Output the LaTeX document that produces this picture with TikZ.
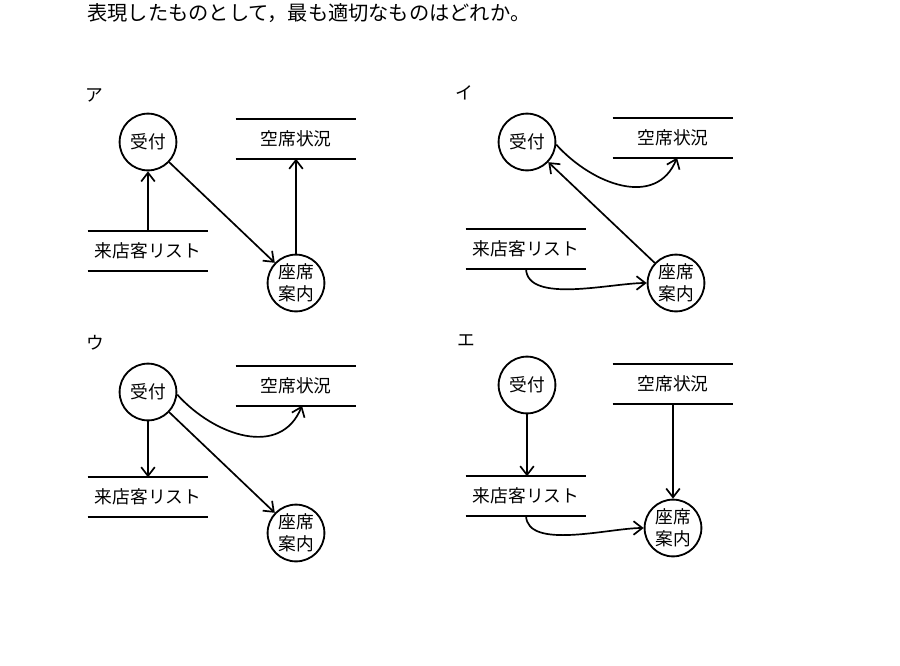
\documentclass[tikz,border=0pt]{standalone}
\usepackage{fontspec}
\setmainfont{Noto Sans CJK JP}
\usetikzlibrary{arrows.meta}

\begin{document}
\begin{tikzpicture}[
  x=0.025cm,y=-0.025cm,
  font=\fontsize{12.6}{15.6}\selectfont,
  >={Straight Barb[length=2.2mm,width=3.4mm]},
  proc/.style={draw,circle,line width=1.3pt,inner sep=0pt,minimum size=1.42cm,align=center},
  store/.style={inner sep=0pt,minimum width=3cm,minimum height=0.97cm,
    append after command={
      (\tikzlastnode.north west) edge[line width=1.3pt] (\tikzlastnode.north east)
      (\tikzlastnode.south west) edge[line width=1.3pt] (\tikzlastnode.south east)}},
  tag/.style={inner sep=0pt},
  flow/.style={->,line width=1.2pt}
]
\useasboundingbox (0,0) rectangle (900,665);
\node[anchor=west,inner sep=0pt,font=\fontsize{14.4}{17}\selectfont] (q) at (87,13) {表現したものとして，最も適切なものはどれか。};

% ア
\node[tag] (tA) at (94,95) {ア};
\node[proc] (recA) at (148,142) {受付};
\node[store] (vacA) at (296,139) {空席状況};
\node[store] (listA) at (148,251) {来店客リスト};
\node[proc] (seatA) at (296,283) {座席\\案内};
\draw[flow] (listA.north) -- (recA.south);
\draw[flow] (recA) -- (seatA);
\draw[flow] (seatA.north) -- (vacA.south);

% イ
\node[tag] (tB) at (464,93) {イ};
\node[proc] (recB) at (527,142) {受付};
\node[store] (vacB) at (673,138) {空席状況};
\node[store] (listB) at (526,249) {来店客リスト};
\node[proc] (seatB) at (676,283) {座席\\案内};
\draw[flow] (recB.-5) to[out=-48,in=-112,looseness=1.15] ([xshift=0.1cm]vacB.south);
\draw[flow] (seatB) -- (recB);
\draw[flow] (listB.south) to[out=-88,in=180,looseness=0.75] (seatB.west);

% ウ
\node[tag] (tC) at (95,343) {ウ};
\node[proc] (recC) at (148,392) {受付};
\node[store] (vacC) at (296,386) {空席状況};
\node[store] (listC) at (148,497) {来店客リスト};
\node[proc] (seatC) at (296,533) {座席\\案内};
\draw[flow] (recC.-5) to[out=-48,in=-112,looseness=1.15] ([xshift=0.15cm]vacC.south);
\draw[flow] (recC.south) -- (listC.north);
\draw[flow] (recC) -- (seatC);

% エ
\node[tag] (tD) at (466,341) {エ};
\node[proc] (recD) at (527,385) {受付};
\node[store] (vacD) at (673,384) {空席状況};
\node[store] (listD) at (526,496) {来店客リスト};
\node[proc] (seatD) at (673,528) {座席\\案内};
\draw[flow] (recD.south) -- (recD.south |- listD.north);
\draw[flow] (vacD.south) -- (seatD.north);
\draw[flow] (listD.south) to[out=-88,in=180,looseness=0.75] (seatD.west);
\end{tikzpicture}
\end{document}
